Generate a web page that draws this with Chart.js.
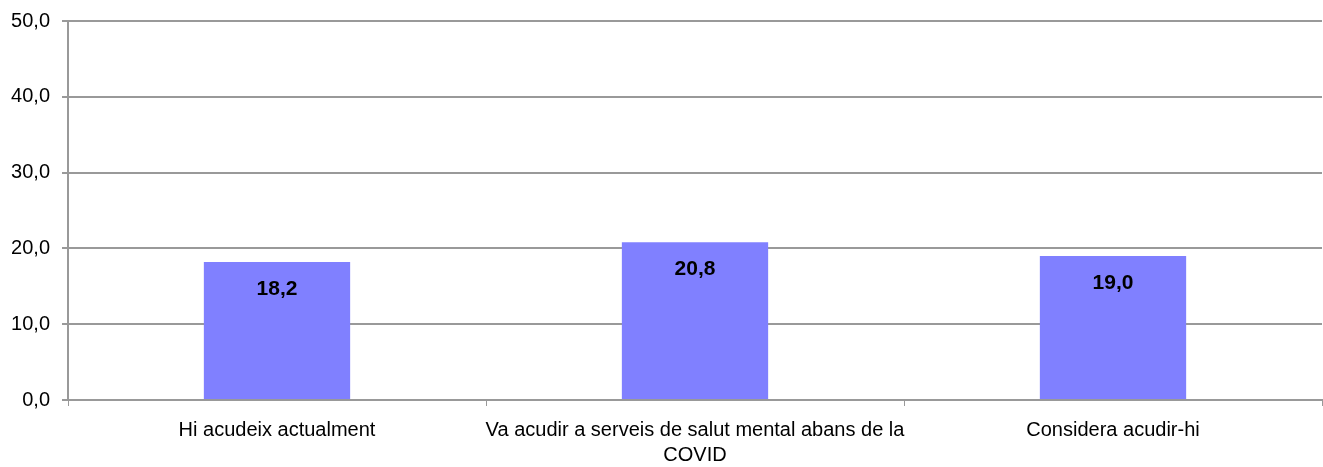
<!DOCTYPE html>
<html lang="ca">
    <head>
        <meta charset="UTF-8" />
        <title>Serveis de salut mental</title>
        <script src="https://cdn.jsdelivr.net/npm/chart.js"></script>
        <style>
            html, body {
                margin: 0;
                padding: 0;
                background: #fff;
            }
            #wrap {
                width: 1323px;
                height: 467px;
            }
        </style>
    </head>
    <body>
        <div id="wrap">
            <canvas id="chart" width="1323" height="467"></canvas>
        </div>

        <script>
            const categories = [
                "Hi acudeix actualment",
                ["Va acudir a serveis de salut mental abans de la", "COVID"],
                "Considera acudir-hi",
            ]
            const values = [18.2, 20.8, 19.0]
            const yTicks = [0, 10, 20, 30, 40, 50]

            const fontFamily = "'Liberation Sans Narrow', 'Arial Narrow', 'Liberation Sans', sans-serif"
            const fmt = (v) => v.toFixed(1).replace(".", ",")

            // draw the value inside each bar, near its top
            const valueLabels = {
                id: "valueLabels",
                afterDatasetsDraw(chart) {
                    const ctx = chart.ctx
                    const meta = chart.getDatasetMeta(0)
                    ctx.save()
                    ctx.font = "bold 21px " + fontFamily
                    ctx.fillStyle = "#000"
                    ctx.textAlign = "center"
                    ctx.textBaseline = "middle"
                    meta.data.forEach((bar, i) => {
                        ctx.fillText(fmt(values[i]), bar.x, bar.y + 27)
                    })
                    ctx.restore()
                },
            }

            new Chart(document.getElementById("chart"), {
                type: "bar",
                data: {
                    labels: categories,
                    datasets: [
                        {
                            data: values,
                            backgroundColor: "#8080ff",
                            borderWidth: 0,
                            categoryPercentage: 1,
                            barPercentage: 0.35,
                        },
                    ],
                },
                options: {
                    responsive: false,
                    animation: false,
                    layout: { padding: { top: 21, right: 1, left: 0, bottom: 0 } },
                    plugins: {
                        legend: { display: false },
                        tooltip: { enabled: false },
                    },
                    scales: {
                        x: {
                            afterFit: (axis) => {
                                axis.height = 67
                            },
                            grid: {
                                offset: true,
                                drawOnChartArea: false,
                                drawTicks: true,
                                tickLength: 6,
                                color: "#999",
                            },
                            border: { color: "#999", width: 2 },
                            ticks: {
                                color: "#000",
                                font: { family: fontFamily, size: 20, lineHeight: 1.25 },
                                maxRotation: 0,
                                autoSkip: false,
                                padding: 12,
                            },
                        },
                        y: {
                            min: 0,
                            max: 50,
                            afterFit: (axis) => {
                                axis.width = 68
                                axis.paddingTop = 0
                            },
                            afterBuildTicks: (axis) => {
                                axis.ticks = yTicks.map((v) => ({ value: v }))
                            },
                            grid: {
                                color: "#999",
                                lineWidth: 2,
                                tickLength: 6,
                            },
                            border: { color: "#999", width: 2 },
                            ticks: {
                                color: "#000",
                                font: { family: fontFamily, size: 20 },
                                padding: 12,
                                callback: (v) => fmt(v),
                            },
                        },
                    },
                },
                plugins: [valueLabels],
            })
        </script>
    </body>
</html>
